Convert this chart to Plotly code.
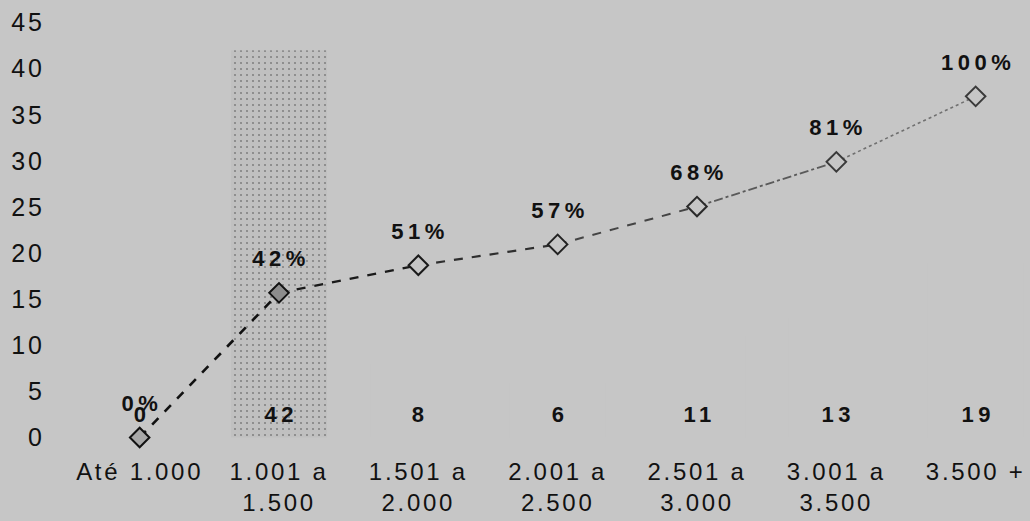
import plotly.graph_objects as go

categories = ["Até 1.000", "1.001 a<br>1.500", "1.501 a<br>2.000", "2.001 a<br>2.500",
              "2.501 a<br>3.000", "3.001 a<br>3.500", "3.500 +"]
counts = [0, 42, 8, 6, 11, 13, 19]
cum_pct = [0, 42.4, 50.5, 56.6, 67.7, 80.8, 100]
pct_labels = ["0%", "42%", "51%", "57%", "68%", "81%", "100%"]
count_labels = ["0", "42", "8", "6", "11", "13", "19"]
y_ticks = [0, 5, 10, 15, 20, 25, 30, 35, 40, 45]

BG = "#c6c6c6"
FONT = "Liberation Sans, Arial, sans-serif"
x = list(range(len(categories)))

# only the tallest bar survives visibly in the scanned original
is_main = [c == max(counts) for c in counts]
bar_colors = ["#c0c0c0" if m else BG for m in is_main]
bar_shapes = ["." if m else "" for m in is_main]

fig = go.Figure()
fig.add_trace(go.Bar(
    x=x, y=counts, width=0.69,
    marker=dict(color=bar_colors, line=dict(width=0),
                pattern=dict(shape=bar_shapes, fgcolor="#5c5c5c",
                             size=6, solidity=0.1)),
    hoverinfo="skip", showlegend=False,
))

# line fades from dark dashed to light dotted as in the original
seg_colors = ["#111111", "#1a1a1a", "#2e2e2e", "#444444", "#5a5a5a", "#707070"]
seg_widths = [2.6, 2.4, 2.2, 2.0, 1.8, 1.6]
seg_dash = ["dash", "dash", "dash", "dash", "dashdot", "dot"]
for i in range(len(x) - 1):
    fig.add_trace(go.Scatter(
        x=x[i:i + 2], y=cum_pct[i:i + 2], yaxis="y2", mode="lines",
        line=dict(color=seg_colors[i], width=seg_widths[i], dash=seg_dash[i]),
        hoverinfo="skip", showlegend=False,
    ))
marker_fill = ["#a8a8a8", "#8c8c8c", BG, BG, BG, BG, BG]
marker_edge = ["#111111", "#111111", "#1a1a1a", "#222222", "#2a2a2a", "#3a3a3a", "#3a3a3a"]
fig.add_trace(go.Scatter(
    x=x, y=cum_pct, yaxis="y2", mode="markers",
    marker=dict(symbol="diamond", size=15, color=marker_fill,
                line=dict(color=marker_edge, width=2)),
    hoverinfo="skip", showlegend=False,
))

annotations = []
for i, (p, lab) in enumerate(zip(cum_pct, pct_labels)):
    annotations.append(dict(x=i, y=p, yref="y2", xref="x", text="<b>%s</b>" % lab,
                            showarrow=False, yshift=34, xshift=2,
                            font=dict(family=FONT, size=22, color="#111111")))
for i, lab in enumerate(count_labels):
    annotations.append(dict(x=i, y=0, yref="y", xref="x", text="<b>%s</b>" % lab,
                            showarrow=False, yshift=23, xshift=2,
                            font=dict(family=FONT, size=22, color="#111111")))

RATIO = 0.37
y_min, y_max = -1.356, 46.15
fig.update_layout(
    width=1030, height=521,
    margin=dict(l=70, r=0, t=12, b=71),
    paper_bgcolor=BG, plot_bgcolor=BG,
    font=dict(family=FONT, size=25, color="#111111"),
    xaxis=dict(tickmode="array", tickvals=x, ticktext=categories, range=[-0.5, 6.39],
               showgrid=False, zeroline=False, showline=False, ticks="",
               ticklabelstandoff=5,
               tickfont=dict(family=FONT, size=24, color="#111111")),
    yaxis=dict(range=[y_min, y_max], tickvals=y_ticks, showgrid=False, zeroline=False,
               showline=False, ticks="", ticklabelstandoff=24,
               tickfont=dict(family=FONT, size=25, color="#111111")),
    yaxis2=dict(range=[y_min / RATIO, y_max / RATIO], overlaying="y", visible=False),
    annotations=annotations,
)

post = """
document.body.style.margin = '0';
document.body.style.background = '%s';
var gd = document.getElementById('{plot_id}');
gd.querySelectorAll('.xtick text').forEach(function(t){ t.setAttribute('letter-spacing', '2.7px'); });
gd.querySelectorAll('.ytick text').forEach(function(t){ t.setAttribute('letter-spacing', '3px'); });
gd.querySelectorAll('.annotation-text').forEach(function(t){ t.setAttribute('letter-spacing', '4.5px'); });
""" % BG
fig.write_html("out.html", post_script=post, config={"displayModeBar": False})
